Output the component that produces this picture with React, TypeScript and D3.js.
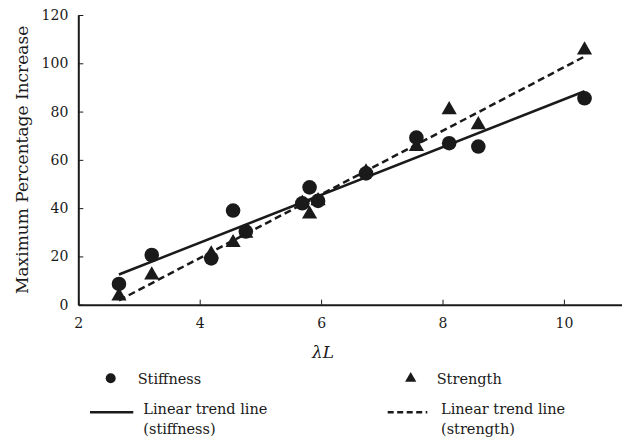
import * as d3 from 'd3';
import React, { useRef, useEffect } from 'react';

// lambda*L values shared by both tests
const lambdaL = [2.67, 3.21, 4.19, 4.55, 4.76, 5.69, 5.81, 5.95, 6.74, 7.57, 8.11, 8.59, 10.34];
const stiffness = [8.6, 20.6, 19.2, 39.0, 30.3, 42.0, 48.6, 43.0, 54.4, 69.2, 66.9, 65.5, 85.5];
const strength = [3.6, 12.3, 21.0, 25.7, 29.5, 42.0, 37.5, 43.0, 55.0, 65.5, 80.7, 74.5, 105.5];
const xTicks = [2, 4, 6, 8, 10];
const yTicks = [0, 20, 40, 60, 80, 100, 120];

const ink = '#1a1a1a';
const serif = "'DejaVu Serif', serif";

function fit(xs: number[], ys: number[]) {
    const mx = d3.mean(xs) as number, my = d3.mean(ys) as number;
    let sxy = 0, sxx = 0;
    xs.forEach((x, i) => { sxy += (x - mx) * (ys[i] - my); sxx += (x - mx) * (x - mx); });
    const slope = sxy / sxx;
    return { slope, intercept: my - slope * mx };
}

function Chart({ width, height }: { width: number, height: number }) {
    const ref = useRef<SVGSVGElement>(null);

    useEffect(() => {
        const svg = d3.select(ref.current);
        svg.selectAll('*').remove();

        const x = d3.scaleLinear().domain([2, 11]).range([78.3, 624.6]);
        const y = d3.scaleLinear().domain([0, 120]).range([304.7, 15]);

        // y axis
        const gy = svg.append('g').attr('transform', `translate(${x(2)},0)`)
            .call(d3.axisLeft(y).tickValues(yTicks).tickSize(-5).tickSizeOuter(0).tickPadding(10));
        // x axis
        const gx = svg.append('g').attr('transform', `translate(0,${y(0)})`)
            .call(d3.axisBottom(x).tickValues(xTicks).tickSize(-5).tickSizeOuter(0).tickPadding(13));

        [gx, gy].forEach(g => {
            g.attr('font-family', serif).attr('font-size', 14);
            g.select('.domain').attr('stroke', ink).attr('stroke-width', 2);
            g.selectAll('.tick line').attr('stroke', ink).attr('stroke-width', 1);
            g.selectAll('.tick text').attr('fill', ink);
        });

        svg.append('text')
            .attr('transform', `translate(28,${(y(0) + y(120)) / 2}) rotate(-90)`)
            .attr('text-anchor', 'middle')
            .attr('font-family', serif).attr('font-size', 17).attr('fill', ink)
            .text('Maximum Percentage Increase');

        svg.append('text')
            .attr('x', 323).attr('y', 358)
            .attr('text-anchor', 'middle')
            .attr('font-family', serif).attr('font-size', 17).attr('font-style', 'italic').attr('fill', ink)
            .text('λL');

        // trend lines
        const x0 = d3.min(lambdaL) as number, x1 = d3.max(lambdaL) as number;
        const line = d3.line<number>().x(d => x(d[0])).y(d => y(d[1]));
        const addTrend = (ys: number[], dash: string | null) => {
            const f = fit(lambdaL, ys);
            svg.append('path')
                .attr('d', line([[x0, f.intercept + f.slope * x0], [x1, f.intercept + f.slope * x1]] as any))
                .attr('fill', 'none').attr('stroke', ink).attr('stroke-width', 2.5)
                .attr('stroke-dasharray', dash);
        };
        addTrend(stiffness, null);
        addTrend(strength, '7,4');

        const tri = d3.symbol().type(d3.symbolTriangle).size(100);

        svg.append('g').selectAll('path')
            .data(lambdaL)
            .enter().append('path')
            .attr('d', tri)
            .attr('transform', (d, i) => `translate(${x(d)},${y(strength[i])})`)
            .attr('fill', ink);

        svg.append('g').selectAll('circle')
            .data(lambdaL)
            .enter().append('circle')
            .attr('cx', d => x(d))
            .attr('cy', (d, i) => y(stiffness[i]))
            .attr('r', 7.3)
            .attr('fill', ink);

        // legend
        const leg = svg.append('g').attr('font-family', serif).attr('font-size', 14.5).attr('fill', ink);
        leg.append('circle').attr('cx', 110.7).attr('cy', 378.3).attr('r', 5);
        leg.append('text').attr('x', 137.7).attr('y', 383.5).text('Stiffness');
        leg.append('path').attr('d', d3.symbol().type(d3.symbolTriangle).size(55)()).attr('transform', 'translate(410.7,378.5)');
        leg.append('text').attr('x', 436.7).attr('y', 383.5).text('Strength');

        leg.append('line').attr('x1', 90).attr('x2', 133.3).attr('y1', 412.3).attr('y2', 412.3)
            .attr('stroke', ink).attr('stroke-width', 2.5);
        leg.append('text').attr('x', 143.3).attr('y', 413.5).text('Linear trend line');
        leg.append('text').attr('x', 143.3).attr('y', 433.5).text('(stiffness)');

        leg.append('line').attr('x1', 387.7).attr('x2', 427.3).attr('y1', 412.3).attr('y2', 412.3)
            .attr('stroke', ink).attr('stroke-width', 2.5).attr('stroke-dasharray', '6,3.5');
        leg.append('text').attr('x', 441).attr('y', 413.5).text('Linear trend line');
        leg.append('text').attr('x', 441).attr('y', 433.5).text('(strength)');
    }, []);

    return <svg ref={ref} width={width} height={height} style={{ position: 'absolute', left: 0, top: 0, background: '#fff' }}></svg>;
}

export default function App() {
    return <Chart width={622} height={442} />;
}
